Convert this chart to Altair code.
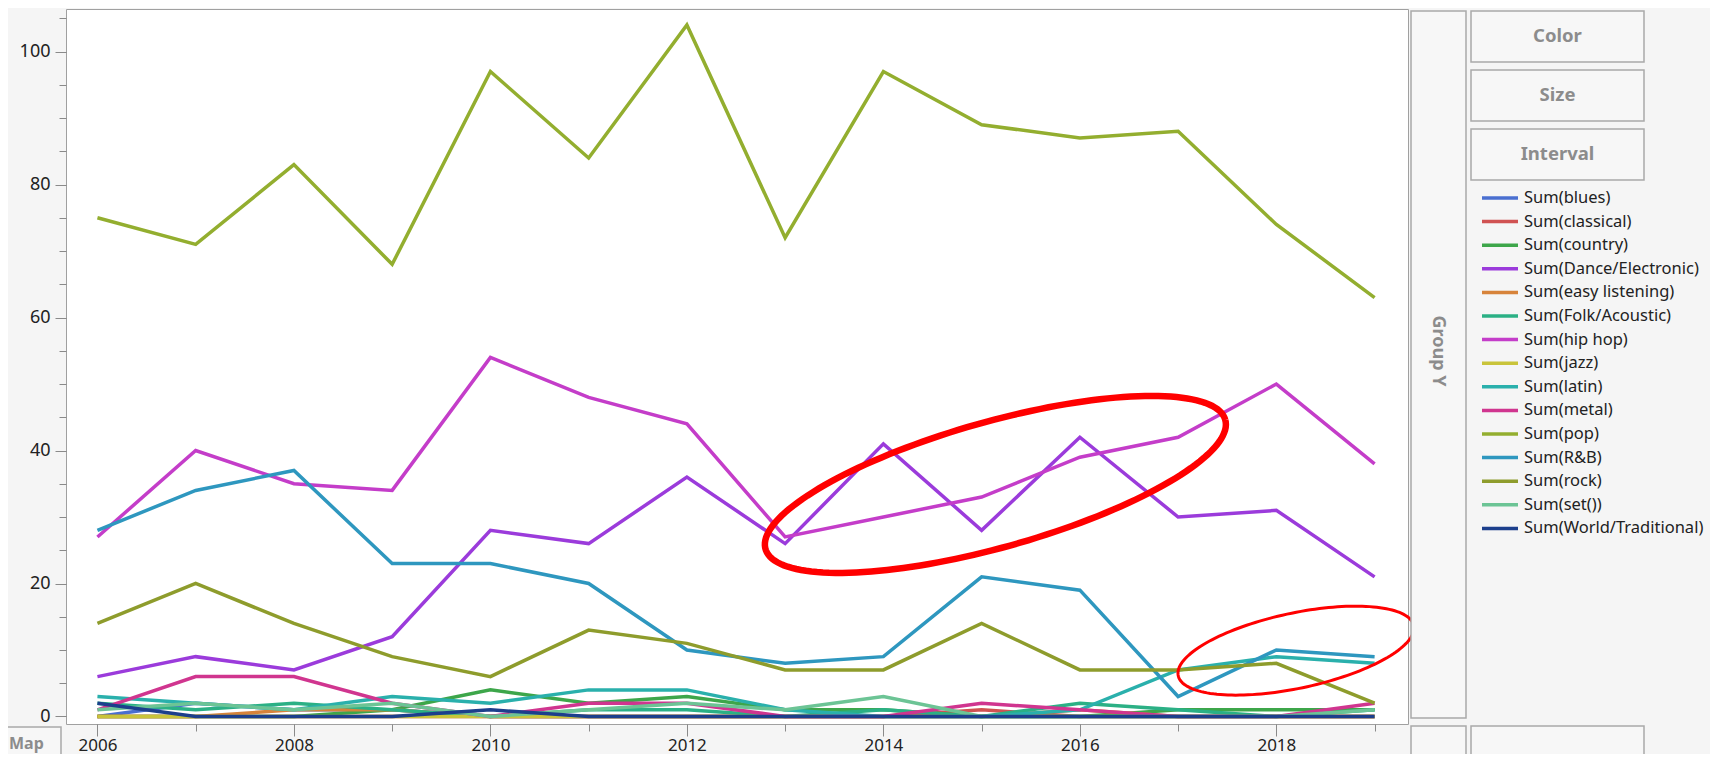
import altair as alt
import pandas as pd
import numpy as np

years = list(range(2006, 2020))
genres = ["blues", "classical", "country", "Dance/Electronic", "easy listening",
          "Folk/Acoustic", "hip hop", "jazz", "latin", "metal", "pop", "R&B",
          "rock", "set()", "World/Traditional"]
colors = ["#4A6FD0", "#D05252", "#3DA64A", "#9B3BDB", "#D7833A",
          "#2BB085", "#C43DC9", "#C9C43A", "#2AB0AC", "#D0358F", "#93AE2F", "#2E97BF",
          "#8E9C2C", "#6CC495", "#1C3F8C"]

blues = [0, 2, 1, 1, 0, 0, 0, 0, 0, 0, 0, 0, 0, 0]
classical = [0, 0, 0, 0, 0, 0, 0, 0, 0, 1, 0, 0, 0, 0]
country = [0, 0, 0, 1, 4, 2, 3, 1, 1, 0, 0, 1, 1, 1]
dance = [6, 9, 7, 12, 28, 26, 36, 26, 41, 28, 42, 30, 31, 21]
easy = [0, 0, 1, 1, 0, 0, 0, 0, 0, 0, 1, 0, 0, 0]
folk = [2, 1, 2, 1, 0, 1, 1, 0, 1, 0, 2, 1, 0, 1]
hiphop = [27, 40, 35, 34, 54, 48, 44, 27, 30, 33, 39, 42, 50, 38]
jazz = [0, 0, 0, 0, 0, 0, 0, 0, 0, 0, 0, 0, 0, 0]
latin = [3, 2, 1, 3, 2, 4, 4, 1, 0, 0, 1, 7, 9, 8]
metal = [1, 6, 6, 2, 0, 2, 2, 0, 0, 2, 1, 0, 0, 2]
pop = [75, 71, 83, 68, 97, 84, 104, 72, 97, 89, 87, 88, 74, 63]
rnb = [28, 34, 37, 23, 23, 20, 10, 8, 9, 21, 19, 3, 10, 9]
rock = [14, 20, 14, 9, 6, 13, 11, 7, 7, 14, 7, 7, 8, 2]
setx = [1, 2, 1, 2, 0, 1, 2, 1, 3, 0, 0, 0, 0, 1]
world = [2, 0, 0, 0, 1, 0, 0, 0, 0, 0, 0, 0, 0, 0]

series = [blues, classical, country, dance, easy, folk, hiphop, jazz, latin,
          metal, pop, rnb, rock, setx, world]

panel_labels = ["Color", "Size", "Interval"]

rows = []
for gi, (g, vals) in enumerate(zip(genres, series)):
    for y, v in zip(years, vals):
        rows.append({"year": y, "genre": g, "value": v, "gi": gi})
df = pd.DataFrame(rows)

# layout
W, H = 1342, 715
X0, X1 = 2005.68, 2019.34
Y0, Y1 = -1.13, 106.4
PX_YEAR = W / (X1 - X0)
PX_UNIT = H / (Y1 - Y0)
FONT = "Noto Sans"

xs = alt.Scale(domain=[X0, X1], nice=False, zero=False)
ys = alt.Scale(domain=[Y0, Y1], nice=False, zero=False)

lines = alt.Chart(df).mark_line(strokeWidth=3.5).encode(
    x=alt.X("year:Q", scale=xs, axis=alt.Axis(
        values=list(range(2006, 2020, 2)), format="d", title=None, domain=False,
        grid=False, tickSize=12, tickColor="#8a8a8a", labelPadding=1,
        labelFontSize=17, labelColor="#222222", labelFont=FONT, orient="bottom")),
    y=alt.Y("value:Q", scale=ys, axis=alt.Axis(
        values=list(range(0, 101, 20)), title=None, domain=False, grid=False,
        tickSize=11, tickColor="#8a8a8a", labelPadding=5, labelFontSize=18,
        labelColor="#222222", labelFont=FONT, orient="left")),
    color=alt.Color("genre:N", scale=alt.Scale(domain=genres, range=colors),
                    sort=genres,
                    legend=alt.Legend(
                        orient="none", legendX=1414, legendY=181, title=None,
                        symbolType="stroke", symbolSize=1296, symbolStrokeWidth=3.5,
                        labelFontSize=16.5, labelFont=FONT, labelColor="#222222",
                        labelExpr="'Sum(' + datum.label + ')'", labelLimit=400,
                        clipHeight=16, rowPadding=6.6, labelOffset=4, padding=0)),
    detail="genre:N",
    order="gi:Q",
)

minor = alt.Chart(df).mark_point(opacity=0).encode(
    x=alt.X("year:Q", scale=xs, axis=alt.Axis(
        values=years, labels=False, title=None, domain=False, grid=False,
        tickSize=7, tickColor="#8a8a8a", orient="bottom")),
    y=alt.Y("value:Q", scale=ys, axis=alt.Axis(
        values=list(range(0, 106, 5)), labels=False, title=None, domain=False,
        grid=False, tickSize=7, tickColor="#8a8a8a", orient="left")),
)


def ellipse(cx, cy, a, b, theta_deg, n=160):
    t = np.linspace(0, 2 * np.pi, n)
    th = np.radians(theta_deg)
    px = a * np.cos(t) * np.cos(th) - b * np.sin(t) * np.sin(th)
    py = a * np.cos(t) * np.sin(th) + b * np.sin(t) * np.cos(th)
    return pd.DataFrame({"year": cx + px / PX_YEAR, "value": cy + py / PX_UNIT,
                         "i": list(range(n))})


def ell_layer(d, sw):
    return alt.Chart(d).mark_line(color="#FF0000", strokeWidth=sw, clip=False).encode(
        x=alt.X("year:Q", scale=xs, axis=None),
        y=alt.Y("value:Q", scale=ys, axis=None),
        order="i:Q",
    )


e1 = ell_layer(ellipse(2015.14, 34.9, 238.8, 62.8, 15.7), 6.5)
e2 = ell_layer(ellipse(2018.2, 9.9, 120.4, 37.6, 12.0), 3)

one = pd.DataFrame({"k": [0]})
BOX_FILL = "#f7f7f7"
BOX_STROKE = "#a9a9a9"


def box(x, x2, y, y2):
    return alt.Chart(one).mark_rect(fill=BOX_FILL, stroke=BOX_STROKE, strokeWidth=1.5,
                                    clip=False).encode(
        x=alt.value(x), x2=alt.value(x2), y=alt.value(y), y2=alt.value(y2))


def label(x, y, txt, size=18.5, angle=0, align="center"):
    return alt.Chart(one).mark_text(font=FONT, fontSize=size, fontWeight="bold",
                                    color="#8c8c8c", angle=angle, align=align,
                                    baseline="middle", clip=False).encode(
        x=alt.value(x), y=alt.value(y), text=alt.value(txt))


chrome = [
    box(1345, 1400, 2, 709), label(1372, 342, "Group Y", size=18, angle=90),
    box(1345, 1400, 717, 790), box(1405, 1578, 717, 790),
    box(-80, -5, 718, 790), label(-57, 735, "Map", size=16, align="left"),
]
for i, lab in enumerate(panel_labels):
    top = 2 + i * 59
    chrome += [box(1405, 1578, top, top + 51), label(1491.5, top + 25, lab)]

chart = alt.layer(lines, minor, e1, e2, *chrome).resolve_axis(
    x="independent", y="independent"
).properties(
    width=W, height=H,
    autosize=alt.AutoSizeParams(type="none"),
    padding={"left": 58, "top": 1, "right": 302, "bottom": 30},
    background="#f5f5f5",
).configure_view(fill="white", stroke="#a0a0a0", strokeWidth=1)

chart.save("out.html", embed_options={"renderer": "svg", "actions": False})
